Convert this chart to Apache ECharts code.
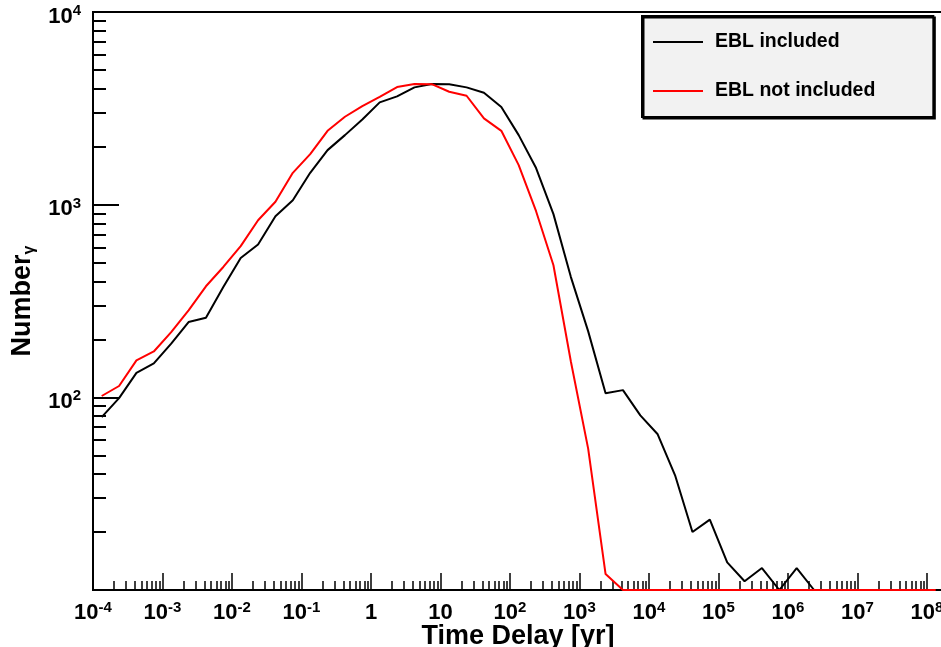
<!DOCTYPE html>
<html><head><meta charset="utf-8">
<script src="https://cdn.jsdelivr.net/npm/echarts@6/dist/echarts.min.js"></script>
<style>html,body{margin:0;padding:0;background:#fff}#c{width:941px;height:647px}</style>
</head><body><div id="c"></div>
<script>
// log10 of the time-delay bin centres [yr]
const binExponents = [-3.875,-3.625,-3.375,-3.125,-2.875,-2.625,-2.375,-2.125,-1.875,-1.625,-1.375,-1.125,-0.875,-0.625,-0.375,-0.125,0.125,0.375,0.625,0.875,1.125,1.375,1.625,1.875,2.125,2.375,2.625,2.875,3.125,3.375,3.625,3.875,4.125,4.375,4.625,4.875,5.125,5.375,5.625,5.875,6.125,6.375,6.625,6.875,7.125,7.375,7.625,7.875,8.125];
// photon counts; 10 = bottom of the log frame (empty bins)
const eblIncluded = [79,99,134,150,190,246,259,374,529,621,871,1055,1463,1919,2296,2770,3396,3650,4063,4227,4220,4063,3808,3210,2296,1549,893,422,220,105,109,80.6,64.3,39.4,20,23.2,13.9,11.1,13.0,10,13.0,10,10,10,10,10,10,10,10];
const eblNotIncluded = [101.6,114.5,155.6,173,218,283,377,475,609,830,1035,1463,1830,2418,2860,3250,3630,4080,4227,4220,3855,3675,2805,2417,1604,925,485,154,54,12.1,10,10,10,10,10,10,10,10,10,10,10,10,10,10,10,10,10,10,10];
const seriesNames = ['EBL included', 'EBL not included'];
const xMajorTicks = [1e-4,1e-3,1e-2,1e-1,1,10,1e2,1e3,1e4,1e5,1e6,1e7,1e8];
const yMajorTicks = [100,1000,10000];
const xTitle = 'Time Delay [yr]';
const yTitle = 'Number';
const ySub = 'γ';

const xMinorTicks = [];
for (let e = -4; e < 8; e++) for (let m = 2; m <= 9; m++) xMinorTicks.push(m * Math.pow(10, e));
const yMinorTicks = [];
for (let e = 1; e < 4; e++) for (let m = 2; m <= 9; m++) yMinorTicks.push(m * Math.pow(10, e));

const xs = binExponents.map(e => Math.pow(10, e));
const d1 = xs.map((x, i) => [x, eblIncluded[i]]);
const d2 = xs.map((x, i) => [x, eblNotIncluded[i]]);

const FONT = 'Liberation Sans';
function powLabel(v) {
  const e = Math.round(Math.log10(v));
  if (e === 0) return '{b|1}';
  if (e === 1) return '{b|10}';
  return '{b|10}{s|' + e + '}';
}
const richLab = {
  b: {fontSize: 22, fontWeight: 'bold', fontFamily: FONT, color: '#000', lineHeight: 26},
  s: {fontSize: 15, fontWeight: 'bold', fontFamily: FONT, color: '#000', lineHeight: 15, verticalAlign: 'top'}
};
const XMAX = Math.pow(10, 8.23);

const chart = echarts.init(document.getElementById('c'), null, {renderer: 'canvas'});
chart.setOption({
  animation: false,
  backgroundColor: '#fff',
  textStyle: {fontFamily: FONT},
  grid: {left: 93, right: -2, top: 12, bottom: 57, show: true, borderColor: '#000', borderWidth: 2,
    containLabel: false, outerBoundsMode: 'none'},
  legend: {
    data: seriesNames, orient: 'vertical', left: 642, top: 16,
    icon: 'rect', itemWidth: 50, itemHeight: 2, itemGap: 29,
    padding: [16, 58, 16, 11],
    backgroundColor: '#f2f2f2', borderColor: '#000', borderWidth: 2,
    shadowColor: '#000', shadowBlur: 0, shadowOffsetX: 1.5, shadowOffsetY: 1.5,
    textStyle: {fontSize: 19.5, fontWeight: 'bold', color: '#000', fontFamily: FONT, lineHeight: 20, padding: [0, 0, 0, 7]}
  },
  xAxis: [{
    type: 'log', logBase: 10, min: 1e-4, max: XMAX, position: 'bottom',
    axisLine: {show: true, lineStyle: {color: '#000', width: 2}},
    axisTick: {show: true, inside: true, length: 17, customValues: xMajorTicks, lineStyle: {color: '#000', width: 1.5}},
    axisLabel: {show: true, customValues: xMajorTicks, margin: 10, formatter: powLabel, rich: richLab},
    splitLine: {show: false}, minorTick: {show: false},
    name: xTitle, nameLocation: 'middle', nameGap: 33, nameMoveOverlap: false,
    nameTextStyle: {fontSize: 27, fontWeight: 'bold', color: '#000', fontFamily: FONT}
  }, {
    type: 'log', logBase: 10, min: 1e-4, max: XMAX, position: 'bottom',
    axisLine: {show: false},
    axisTick: {show: true, inside: true, length: 9, customValues: xMinorTicks, lineStyle: {color: '#000', width: 1.5}},
    axisLabel: {show: false}, splitLine: {show: false}
  }],
  yAxis: [{
    type: 'log', logBase: 10, min: 10, max: 10000, position: 'left',
    axisLine: {show: true, lineStyle: {color: '#000', width: 2}},
    axisTick: {show: true, inside: true, length: 26, customValues: yMajorTicks, lineStyle: {color: '#000', width: 2}},
    axisLabel: {show: true, customValues: yMajorTicks, margin: 12, formatter: powLabel, rich: richLab, padding: [9, 0, 0, 0]},
    splitLine: {show: false}, minorTick: {show: false},
    name: yTitle + '{sub|' + ySub + '}', nameLocation: 'middle', nameGap: 53, nameRotate: 90,
    nameTextStyle: {fontSize: 27, fontWeight: 'bold', color: '#000', fontFamily: FONT, lineHeight: 30,
      rich: {sub: {fontSize: 16, fontFamily: FONT, color: '#000', lineHeight: 16, verticalAlign: 'bottom'}}}
  }, {
    type: 'log', logBase: 10, min: 10, max: 10000, position: 'left',
    axisLine: {show: false},
    axisTick: {show: true, inside: true, length: 13, customValues: yMinorTicks, lineStyle: {color: '#000', width: 2}},
    axisLabel: {show: false}, splitLine: {show: false}
  }],
  series: [{
    name: seriesNames[0], type: 'line', data: d1, xAxisIndex: 0, yAxisIndex: 0,
    symbol: 'none', clip: false, lineStyle: {color: '#000', width: 2}, itemStyle: {color: '#000'}
  }, {
    name: seriesNames[1], type: 'line', data: d2, xAxisIndex: 0, yAxisIndex: 0,
    symbol: 'none', clip: false, lineStyle: {color: '#ff0000', width: 2}, itemStyle: {color: '#ff0000'}
  }]
});
</script></body></html>
